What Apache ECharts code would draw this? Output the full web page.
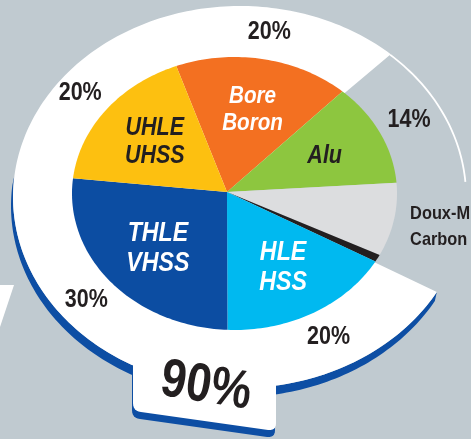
<!DOCTYPE html>
<html>
<head>
<meta charset="utf-8">
<script src="https://cdn.jsdelivr.net/npm/echarts@6/dist/echarts.min.js"></script>
<style>
  html, body { margin: 0; padding: 0; background: #c0cad0; }
  #chart { width: 471px; height: 439px; }
</style>
</head>
<body>
<div id="chart"></div>
<script>
// Steel grades and other materials in the body structure (share of mass)
const grades = ['Bore\nBoron', 'Alu', 'Doux-Mild\nCarbon', '', 'HLE\nHSS', 'THLE\nVHSS', 'UHLE\nUHSS'];
const shares = [20, 14, 10, 1, 20, 30, 20];
const shareText = ['20%', '14%', '10%', '', '20%', '30%', '20%'];
const steelShareText = '90%';

// Styling
const sliceColors = ['#f37021', '#8dc63f', '#dcdddf', '#231f20', '#00b9f0', '#0c4da2', '#fdc010'];
const nameColors = ['#ffffff', '#231f20', '#231f20', '#231f20', '#ffffff', '#ffffff', '#231f20'];
const INK = '#231f20';
const RIM_BLUE = '#0d4ea4';
const FONT = '"Liberation Sans", Arial, sans-serif';

// Layout: tilted disc (ellipse) and the surrounding ring
const PIE = { cx: 234.5, cy: 193.5, rx: 162.5, ry: 136.5 };
const APEX = [227, 192];
const RING = { cx: 240, cy: 197, rx: 227, ry: 191 };
const RIM = { dx: -2, dy: 9 };
const START_ANGLE = 111;

const total = shares.reduce((s, v) => s + v, 0);
const starts = [];
shares.reduce((acc, v, i) => { starts[i] = acc; return acc + v; }, 0);

// The ring wraps the four high-strength/boron grades (HLE .. Bore), the rim shows under HLE and THLE
const ringFrom = starts[4];
const ringTo = total + starts[0] + shares[0];
const rimFrom = starts[4];
const rimTo = starts[5] + shares[5];
const arcFrom = starts[1];
const arcTo = starts[1] + shares[1];

const wrap = a => ((a % total) + total) % total;

function piePoint(api, r, a) {
  const p = api.coord([r, wrap(a)]);
  return [p[0], PIE.cy + (p[1] - PIE.cy) * PIE.ry / PIE.rx];
}
function ringPoint(api, r, a) {
  const p = api.coord([r, wrap(a)]);
  return [p[0], RING.cy + (p[1] - RING.cy) * RING.ry / RING.rx];
}
function arc(fn, api, r, a0, a1) {
  const n = Math.max(2, Math.ceil(Math.abs(a1 - a0) / total * 300));
  const pts = [];
  for (let j = 0; j <= n; j++) pts.push(fn(api, r, a0 + (a1 - a0) * j / n));
  return pts;
}
function label(p, str, color, size, italic, align, lineHeight) {
  return {
    type: 'text', x: p[0], y: p[1], scaleX: 0.86,
    style: {
      text: str, fill: color, fontSize: size, fontWeight: 'bold',
      fontStyle: italic ? 'italic' : 'normal', fontFamily: FONT,
      align: align, verticalAlign: 'middle', lineHeight: lineHeight || Math.round(size * 1.12)
    }
  };
}
// names nearer the viewer (lower on the tilted disc) are set a little larger
const perspectiveSize = y => Math.round(21.5 + 0.022 * y);

// Tab under the ring carrying the overall steel share
const TAB = [[133, 345], [133, 411], [276, 431], [276, 365]];
function roundedTab(dx, dy, r) {
  const out = [];
  TAB.forEach((p, i) => {
    if (i === 1 || i === 2) {
      const a = TAB[i - 1], b = TAB[i + 1];
      const la = Math.hypot(a[0] - p[0], a[1] - p[1]);
      const lb = Math.hypot(b[0] - p[0], b[1] - p[1]);
      const s = [p[0] + (a[0] - p[0]) * r / la, p[1] + (a[1] - p[1]) * r / la];
      const e = [p[0] + (b[0] - p[0]) * r / lb, p[1] + (b[1] - p[1]) * r / lb];
      for (let k = 0; k <= 6; k++) {
        const t = k / 6, u = 1 - t;
        out.push([u * u * s[0] + 2 * u * t * p[0] + t * t * e[0] + dx,
                  u * u * s[1] + 2 * u * t * p[1] + t * t * e[1] + dy]);
      }
    } else {
      out.push([p[0] + dx, p[1] + dy]);
    }
  });
  return out;
}

const chart = echarts.init(document.getElementById('chart'), null, { renderer: 'canvas' });

chart.setOption({
  animation: false,
  backgroundColor: '#c0cad0',
  polar: [
    { center: [PIE.cx, PIE.cy], radius: PIE.rx },
    { center: [RING.cx, RING.cy], radius: RING.rx }
  ],
  angleAxis: [
    { polarIndex: 0, type: 'value', min: 0, max: total, startAngle: START_ANGLE, show: false },
    { polarIndex: 1, type: 'value', min: 0, max: total, startAngle: START_ANGLE, show: false }
  ],
  radiusAxis: [
    { polarIndex: 0, type: 'value', min: 0, max: 1, show: false },
    { polarIndex: 1, type: 'value', min: 0, max: 1, show: false }
  ],
  series: [
    {
      // blue rim under the ring and the tab
      type: 'custom', coordinateSystem: 'polar', polarIndex: 1, z: 1, silent: true,
      data: [[1, rimFrom, rimTo]],
      renderItem(params, api) {
        const outer = arc(ringPoint, api, 1, api.value(1), api.value(2));
        const shifted = outer.map(p => [p[0] + RIM.dx, p[1] + RIM.dy]).reverse();
        return {
          type: 'group',
          children: [
            { type: 'polygon', shape: { points: outer.concat(shifted) }, style: { fill: RIM_BLUE } },
            { type: 'polygon', shape: { points: roundedTab(-1, 7, 8) }, style: { fill: RIM_BLUE } }
          ]
        };
      }
    },
    {
      // white ring, tab, thin arc across the aluminium sector
      type: 'custom', coordinateSystem: 'polar', polarIndex: 1, z: 2, silent: true,
      data: [[1, ringFrom, ringTo]],
      renderItem(params, api) {
        const outer = arc(ringPoint, api, 1, api.value(1), api.value(2));
        const thin = arc(ringPoint, api, 0.996, arcFrom, arcTo);
        return {
          type: 'group',
          children: [
            { type: 'polygon', shape: { points: [APEX].concat(outer) }, style: { fill: '#ffffff' } },
            { type: 'polygon', shape: { points: roundedTab(0, 0, 8) }, style: { fill: '#ffffff' } },
            { type: 'polyline', shape: { points: thin }, style: { stroke: '#ffffff', lineWidth: 1.8, fill: null } },
            { type: 'polygon', shape: { points: [[0, 285], [14, 285], [0, 327]] }, style: { fill: '#ffffff' } },
            {
              type: 'text', x: 206, y: 387, rotation: -9 * Math.PI / 180, scaleX: 0.84,
              style: {
                text: steelShareText, fill: INK, fontSize: 54, fontWeight: 'bold',
                fontFamily: FONT, align: 'center', verticalAlign: 'middle'
              }
            }
          ]
        };
      }
    },
    {
      // the tilted disc
      type: 'custom', coordinateSystem: 'polar', polarIndex: 0, z: 3, silent: true,
      data: shares.map((v, i) => ({ name: grades[i], value: [1, starts[i], starts[i] + v] })),
      renderItem(params, api) {
        const i = params.dataIndex;
        const a0 = api.value(1), a1 = api.value(2);
        const mid = (a0 + a1) / 2;
        const children = [
          { type: 'polygon', shape: { points: [APEX].concat(arc(piePoint, api, 1, a0, a1)) }, style: { fill: sliceColors[i] } }
        ];
        if (grades[i]) {
          if (shares[i] >= 12) {
            const c = piePoint(api, 0.62, mid);
            children.push(label(c, grades[i], nameColors[i], perspectiveSize(c[1]), true, 'center'));
            children.push(label(piePoint(api, 1.2, mid), shareText[i], INK, 25, false, 'center'));
          } else {
            const p = piePoint(api, 1.12, mid);
            children.push(label([p[0] - 3, p[1] + 4], grades[i] + ' ' + shareText[i], INK, 19, false, 'left', 26));
          }
        }
        return { type: 'group', children };
      }
    }
  ]
});
</script>
</body>
</html>
